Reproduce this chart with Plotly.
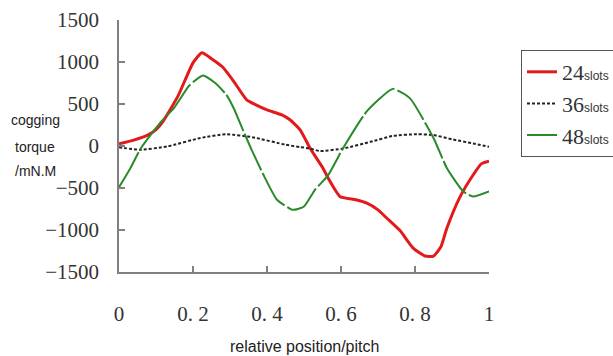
import plotly.graph_objects as go

# ---- data ----
x24 = [0, 0.04, 0.08, 0.10, 0.12, 0.16, 0.20, 0.224, 0.25, 0.28, 0.31, 0.345, 0.37, 0.40, 0.44, 0.462,
       0.49, 0.516, 0.551, 0.565, 0.597, 0.64, 0.67, 0.70, 0.724, 0.76, 0.795, 0.827, 0.85, 0.87,
       0.886, 0.92, 0.957, 0.98, 1.0]
y24 = [25, 70, 135, 195, 300, 600, 990, 1110, 1040, 940, 770, 550, 490, 430, 370, 313,
       190, -24, -262, -380, -600, -640, -680, -760, -860, -1010, -1215, -1310, -1310, -1200,
       -980, -620, -345, -210, -180]

x36 = [0, 0.057, 0.13, 0.22, 0.29, 0.36, 0.45, 0.489, 0.516, 0.543, 0.606, 0.68, 0.74, 0.805,
       0.85, 0.90, 0.957, 1.0]
y36 = [-15, -45, -5, 95, 140, 105, 15, -12, -30, -60, -30, 50, 120, 140, 130, 80, 30, -10]

x48 = [0, 0.03, 0.06, 0.11, 0.15, 0.19, 0.227, 0.26, 0.29, 0.31, 0.336, 0.36, 0.39, 0.427, 0.47,
       0.50, 0.53, 0.565, 0.606, 0.67, 0.74, 0.786, 0.85, 0.886, 0.93, 0.957, 1.0]
y48 = [-490, -270, -20, 270, 460, 720, 840, 750, 610, 450, 180, -60, -340, -640, -760,
       -720, -520, -350, -24, 415, 680, 570, 95, -262, -540, -600, -540]

xtick_vals = [0, 0.2, 0.4, 0.6, 0.8, 1]
xtick_text = ["0", "0. 2", "0. 4", "0. 6", "0. 8", "1"]
ytick_vals = [1500, 1000, 500, 0, -500, -1000, -1500]
ytick_text = ["1500", "1000", "500", "0", "\u2212500", "\u22121000", "\u22121500"]

def lbl(num):
    return ("%s<span style='font-family:Liberation Sans;font-size:12px'>slots</span>" % num)

fig = go.Figure()
fig.add_trace(go.Scatter(x=x24, y=y24, mode="lines", name=lbl("24"), legendgroup="a",
                         line=dict(color="#e31a1c", width=3, shape="spline", smoothing=0.5)))
fig.add_trace(go.Scatter(x=x36, y=y36, mode="lines", name=lbl("36"), legendgroup="b",
                         line=dict(color="#222222", width=2, dash="3px,2px", shape="spline", smoothing=0.5)))
fig.add_trace(go.Scatter(x=x48, y=y48, mode="lines", name=lbl("48"), legendgroup="c",
                         line=dict(color="#2a8a2a", width=2, dash="40px,3px", shape="spline", smoothing=0.5)))

axis_common = dict(showgrid=False, zeroline=False, showline=True, linecolor="#808080", linewidth=1.5,
                   ticks="inside", ticklen=6, tickcolor="#808080", tickwidth=1.5,
                   tickfont=dict(family="Liberation Serif", size=21, color="#333333"))

fig.update_xaxes(range=[0, 1], tickvals=xtick_vals, ticktext=xtick_text, ticklabelstandoff=22, **axis_common)
fig.update_yaxes(range=[-1500, 1500], tickvals=ytick_vals, ticktext=ytick_text, ticklabelstandoff=14, **axis_common)

for txt, yy in [("cogging", 120), ("torque", 147), ("/mN.M", 171)]:
    fig.add_annotation(text=txt, xref="paper", yref="paper", x=(35 - 119) / 370, y=(272 - yy) / 252,
                       showarrow=False, xanchor="center", yanchor="middle",
                       font=dict(family="Liberation Sans", size=14, color="#222222"))

fig.add_annotation(text="relative position/pitch", xref="paper", yref="paper",
                   x=(304 - 119) / 370, y=(272 - 346) / 252, showarrow=False,
                   xanchor="center", yanchor="middle",
                   font=dict(family="Liberation Sans", size=16, color="#222222"))

fig.update_layout(
    width=613, height=356,
    margin=dict(l=119, r=124, t=20, b=84, autoexpand=False),
    paper_bgcolor="white", plot_bgcolor="white",
    showlegend=True,
    legend=dict(x=(521 - 119) / 370, y=(272 - 50) / 252, xanchor="left", yanchor="top",
                bordercolor="#555555", borderwidth=1, bgcolor="white",
                font=dict(family="Liberation Serif", size=22, color="#333333"),
                tracegroupgap=0),
)

fig.write_html("out.html")
